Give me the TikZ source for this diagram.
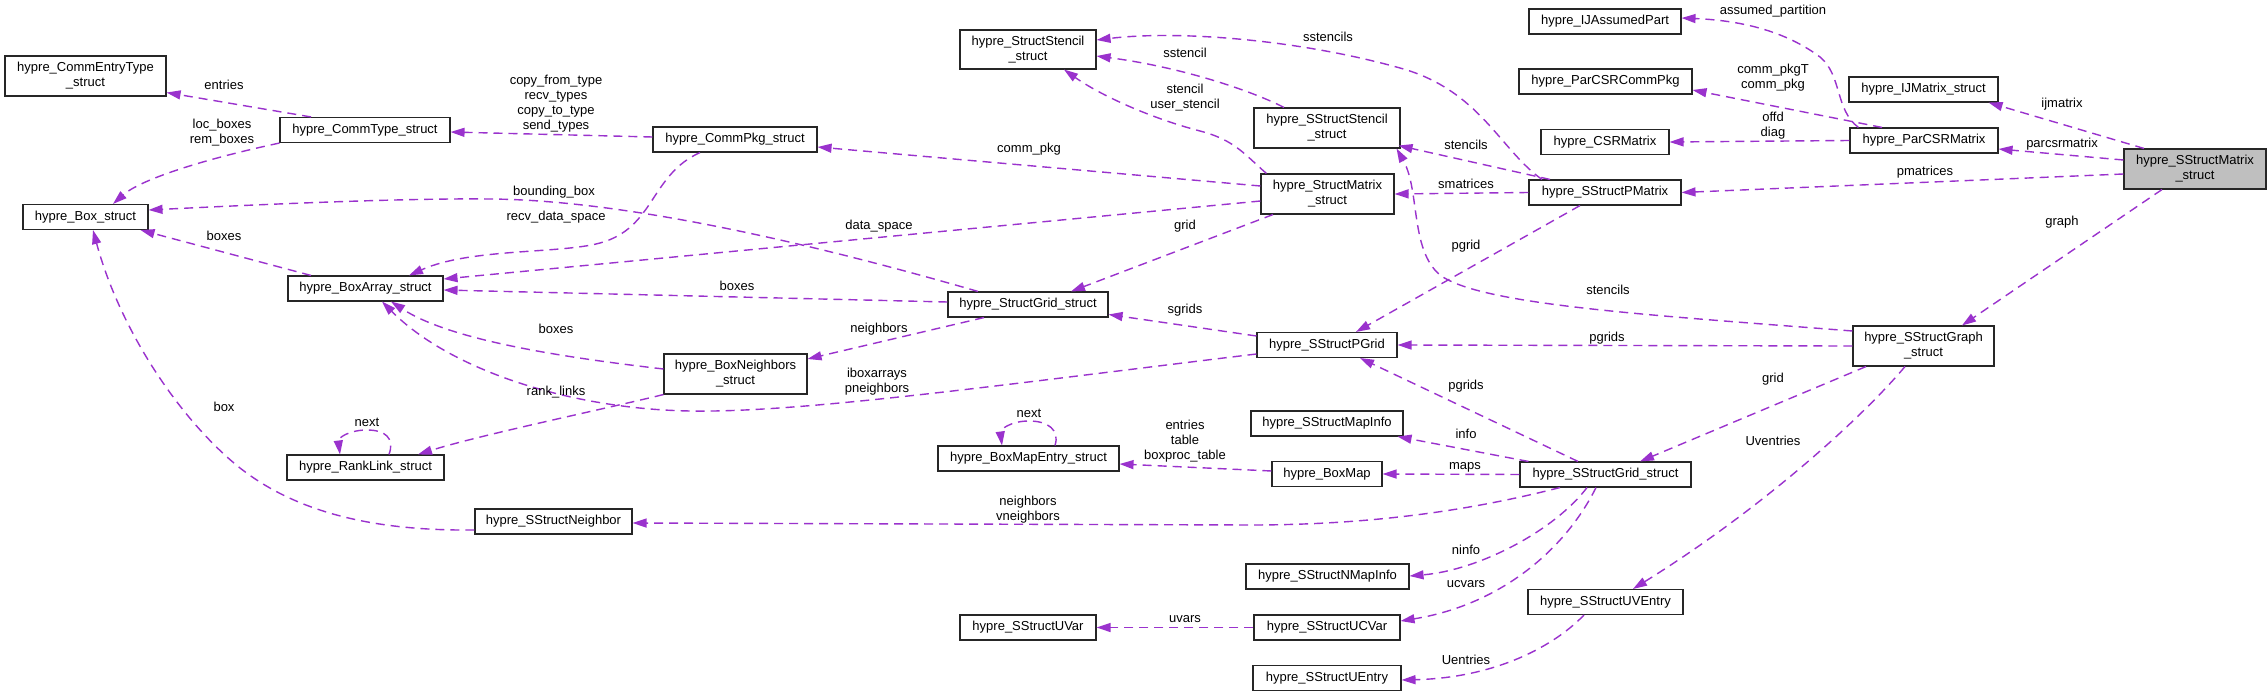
\documentclass[tikz,border=0pt]{standalone}
\usepackage{fontspec}
\setmainfont{Liberation Sans}
\usetikzlibrary{arrows.meta}
\definecolor{edgec}{RGB}{154,50,205}
\definecolor{hilite}{RGB}{191,191,191}
\begin{document}
\begin{tikzpicture}[x=1pt,y=-1pt,font=\fontsize{13pt}{15pt}\selectfont,
  cls/.style={draw=black!85, line width=1.1pt, fill=white, inner sep=0pt, align=center, minimum height=25pt},
  lbl/.style={inner sep=0pt, align=center},
  rel/.style={edgec, line width=1.4pt, dash pattern=on 9pt off 6pt, -{Triangle[length=14pt,width=9pt]}}]
\fill[white] (0,0) rectangle (2268,693);
\useasboundingbox (0,0) rectangle (2268,693);
% classes
\node[cls, minimum width=161pt, minimum height=40pt] (CommEntryType) at (85.5,76) {hypre\_CommEntryType\\\_struct};
\node[cls, minimum width=170pt] (CommType) at (365,130) {hypre\_CommType\_struct};
\node[cls, minimum width=125pt] (Box) at (85.5,217) {hypre\_Box\_struct};
\node[cls, minimum width=155pt] (BoxArray) at (365.5,288.5) {hypre\_BoxArray\_struct};
\node[cls, minimum width=157pt] (RankLink) at (365.5,467.5) {hypre\_RankLink\_struct};
\node[cls, minimum width=157pt] (SNeighbor) at (553.5,521.5) {hypre\_SStructNeighbor};
\node[cls, minimum width=164pt] (CommPkg) at (735,139.5) {hypre\_CommPkg\_struct};
\node[cls, minimum width=143pt, minimum height=40pt] (BoxNeighbors) at (735.5,374) {hypre\_BoxNeighbors\\\_struct};
\node[cls, minimum width=136pt, minimum height=39pt] (StructStencil) at (1028,49.5) {hypre\_StructStencil\\\_struct};
\node[cls, minimum width=160pt] (StructGrid) at (1028,304.5) {hypre\_StructGrid\_struct};
\node[cls, minimum width=181pt] (BoxMapEntry) at (1028.5,458.5) {hypre\_BoxMapEntry\_struct};
\node[cls, minimum width=136pt] (UVar) at (1028,627.5) {hypre\_SStructUVar};
\node[cls, minimum width=146pt, minimum height=40pt] (SStencil) at (1327,128) {hypre\_SStructStencil\\\_struct};
\node[cls, minimum width=133pt, minimum height=40pt] (StructMatrix) at (1327.5,194) {hypre\_StructMatrix\\\_struct};
\node[cls, minimum width=140pt] (PGrid) at (1327,345) {hypre\_SStructPGrid};
\node[cls, minimum width=152pt] (MapInfo) at (1327,423.5) {hypre\_SStructMapInfo};
\node[cls, minimum width=110pt] (BoxMap) at (1327,474) {hypre\_BoxMap};
\node[cls, minimum width=163pt] (NMapInfo) at (1327.5,576.5) {hypre\_SStructNMapInfo};
\node[cls, minimum width=146pt] (UCVar) at (1327,627.5) {hypre\_SStructUCVar};
\node[cls, minimum width=148pt] (UEntry) at (1327,678) {hypre\_SStructUEntry};
\node[cls, minimum width=152pt] (IJAP) at (1605,21.5) {hypre\_IJAssumedPart};
\node[cls, minimum width=173pt] (PCommPkg) at (1605.5,81.5) {hypre\_ParCSRCommPkg};
\node[cls, minimum width=128pt] (CSR) at (1605,142) {hypre\_CSRMatrix};
\node[cls, minimum width=152pt] (PMatrix) at (1605,192.5) {hypre\_SStructPMatrix};
\node[cls, minimum width=171pt] (SGrid) at (1605.5,474.5) {hypre\_SStructGrid\_struct};
\node[cls, minimum width=155pt] (UVEntry) at (1605.5,602) {hypre\_SStructUVEntry};
\node[cls, minimum width=149pt] (IJMatrix) at (1923.5,89.5) {hypre\_IJMatrix\_struct};
\node[cls, minimum width=148pt] (ParCSR) at (1924,140.5) {hypre\_ParCSRMatrix};
\node[cls, minimum width=141pt, minimum height=40pt] (Graph) at (1923.5,346) {hypre\_SStructGraph\\\_struct};
\node[cls, fill=hilite, minimum width=142pt, minimum height=40pt] (SMatrix) at (2195,169) {hypre\_SStructMatrix\\\_struct};
% relations
\draw[rel] ([xshift=-54pt]CommType.north) -- ([yshift=4pt]CommEntryType.south east);
\draw[rel] (CommType.south west) .. controls (200,160) and (140,180) .. ([xshift=27.5pt]Box.north);
\draw[rel] ([yshift=2.5pt]CommPkg.west) -- ([yshift=-2pt]CommType.east);
\draw[rel] ([xshift=-35pt]CommPkg.south) .. controls (650,175) and (655,228) .. (600,243) .. controls (560,254) and (470,248) .. ([xshift=43.5pt]BoxArray.north);
\draw[rel] ([xshift=-50pt]StructGrid.north) .. controls (800,240) and (620,200) .. (490,199) .. controls (400,198) and (250,205) .. ([yshift=7pt]Box.east);
\draw[rel] ([yshift=-7pt]StructMatrix.west) -- ([yshift=9.5pt]BoxArray.east);
\draw[rel] ([yshift=2.5pt]StructGrid.west) -- ([yshift=-1.5pt]BoxArray.east);
\draw[rel] ([yshift=5pt]BoxNeighbors.west) .. controls (560,357) and (450,340) .. ([xshift=25.5pt]BoxArray.south);
\draw[rel] ([yshift=-9pt]PGrid.west) .. controls (1000,385) and (800,413) .. (690,411) .. controls (570,409) and (450,370) .. ([xshift=16.5pt]BoxArray.south);
\draw[rel] (BoxNeighbors.south west) .. controls (600,410) and (480,435) .. ([xshift=52.5pt]RankLink.north);
\draw[rel] ([xshift=23.5pt]RankLink.north) .. controls (395,438) and (385,430) .. (367,430) .. controls (349,430) and (338,438) .. ([xshift=-25.5pt]RankLink.north);
\draw[rel] ([yshift=-8.5pt]SNeighbor.west) .. controls (380,531) and (300,515) .. (240,468) .. controls (180,420) and (120,330) .. ([xshift=7.5pt]Box.south);
\draw[rel] ([xshift=-44pt]StructGrid.south) -- ([yshift=15pt]BoxNeighbors.east);
\draw[rel] ([xshift=6pt]StructMatrix.north west) .. controls (1245,155) and (1235,140) .. (1200,131) .. controls (1150,118) and (1100,95) .. ([xshift=36pt]StructStencil.south);
\draw[rel] ([xshift=-43pt]SStencil.north) .. controls (1250,90) and (1180,67) .. ([yshift=-6.5pt]StructStencil.east);
\draw[rel] ([xshift=-63pt]PMatrix.north) .. controls (1500,150) and (1480,90) .. (1400,68) .. controls (1300,40) and (1180,30) .. ([yshift=9.5pt]StructStencil.east);
\draw[rel] ([yshift=8pt]StructMatrix.west) -- ([yshift=-7.5pt]CommPkg.east);
\draw[rel] ([xshift=-54.5pt]StructMatrix.south) -- ([xshift=43pt]StructGrid.north);
\draw[rel] ([xshift=-55pt]PMatrix.north) -- ([xshift=-2pt,yshift=3pt]SStencil.south east);
\draw[rel] (PMatrix.west) -- (StructMatrix.east);
\draw[rel] ([xshift=-25pt]PMatrix.south) -- ([xshift=29pt]PGrid.north);
\draw[rel] ([yshift=15pt]Graph.west) .. controls (1650,315) and (1480,305) .. (1440,275) .. controls (1410,250) and (1420,190) .. ([xshift=-4pt]SStencil.south east);
\draw[rel] (Graph.west) -- (PGrid.east);
\draw[rel] ([xshift=-57.5pt]Graph.south) -- ([xshift=34.5pt]SGrid.north);
\draw[rel] ([xshift=-18.5pt]Graph.south) .. controls (1860,420) and (1760,510) .. ([xshift=27.5pt]UVEntry.north);
\draw[rel] ([xshift=-27.5pt]SGrid.north) -- ([xshift=33pt]PGrid.south);
\draw[rel] ([xshift=9pt]SGrid.north west) -- ([xshift=-6pt]MapInfo.south east);
\draw[rel] (SGrid.west) -- (BoxMap.east);
\draw[rel] ([xshift=-45.5pt]SGrid.south) .. controls (1480,508) and (1380,525) .. (1250,525) -- ([yshift=-1.5pt]SNeighbor.east);
\draw[rel] ([xshift=-18.5pt]SGrid.south) .. controls (1555,530) and (1480,570) .. ([yshift=0.5pt]NMapInfo.east);
\draw[rel] ([xshift=-9.5pt]SGrid.south) .. controls (1565,550) and (1500,605) .. ([yshift=6.5pt]UCVar.east);
\draw[rel] (UCVar.west) -- (UVar.east);
\draw[rel] ([yshift=3pt]BoxMap.west) -- ([yshift=-5.5pt]BoxMapEntry.east);
\draw[rel] ([xshift=26.5pt]BoxMapEntry.north) .. controls (1060,430) and (1048,421) .. (1029,421) .. controls (1010,421) and (1000,430) .. ([xshift=-26.5pt]BoxMapEntry.north);
\draw[rel] ([xshift=-21.5pt]UVEntry.south) .. controls (1550,650) and (1490,678) .. ([yshift=-2pt]UEntry.east);
\draw[rel] ([yshift=9pt]PGrid.west) -- ([yshift=-10pt]StructGrid.east);
\draw[rel] ([xshift=-51pt]SMatrix.north) -- ([xshift=-10pt]IJMatrix.south east);
\draw[rel] ([yshift=9pt]SMatrix.west) -- ([yshift=-8.5pt]ParCSR.east);
\draw[rel] ([yshift=-5pt]SMatrix.west) -- (PMatrix.east);
\draw[rel] ([xshift=-33pt]SMatrix.south) -- ([xshift=38.5pt]Graph.north);
\draw[rel] ([xshift=9pt]ParCSR.north west) .. controls (1835,110) and (1842,75) .. (1820,57) .. controls (1780,27) and (1730,20) .. ([yshift=3.5pt]IJAP.east);
\draw[rel] ([xshift=-42pt]ParCSR.north) -- ([yshift=-8.5pt]PCommPkg.east);
\draw[rel] (ParCSR.west) -- (CSR.east);
\draw[rel] ([xshift=-54.5pt]BoxArray.north) -- ([xshift=-8pt]Box.south east);
% labels
\node[lbl] (l1) at (224,85) {entries};
\node[lbl] (l2) at (222,132.5) {loc\_boxes\\rem\_boxes};
\node[lbl] (l3) at (556,103.5) {copy\_from\_type\\recv\_types\\copy\_to\_type\\send\_types};
\node[lbl] (l4) at (554,192) {bounding\_box};
\node[lbl] (l5) at (556,217) {recv\_data\_space};
\node[lbl] (l6) at (224,236) {boxes};
\node[lbl] (l7) at (556,329) {boxes};
\node[lbl] (l8) at (556,392) {rank\_links};
\node[lbl] (l9) at (224,407) {box};
\node[lbl] (l10) at (367,422) {next};
\node[lbl] (l11) at (1185,53) {sstencil};
\node[lbl] (l12) at (1185,98) {stencil\\user\_stencil};
\node[lbl] (l13) at (1029,149) {comm\_pkg};
\node[lbl] (l14) at (879,226) {data\_space};
\node[lbl] (l15) at (1185,226) {grid};
\node[lbl] (l16) at (737,286) {boxes};
\node[lbl] (l17) at (1185,310) {sgrids};
\node[lbl] (l18) at (879,329) {neighbors};
\node[lbl] (l19) at (877,381.5) {iboxarrays\\pneighbors};
\node[lbl] (l20) at (1029,413) {next};
\node[lbl] (l21) at (1185,441) {entries\\table\\boxproc\_table};
\node[lbl] (l22) at (1028,510) {neighbors\\vneighbors};
\node[lbl] (l23) at (1185,619) {uvars};
\node[lbl] (l24) at (1328,37) {sstencils};
\node[lbl] (l25) at (1466,145) {stencils};
\node[lbl] (l26) at (1466,184) {smatrices};
\node[lbl] (l27) at (1466,246) {pgrid};
\node[lbl] (l28) at (1608,290) {stencils};
\node[lbl] (l29) at (1607,338) {pgrids};
\node[lbl] (l30) at (1466,386) {pgrids};
\node[lbl] (l31) at (1466,434) {info};
\node[lbl] (l32) at (1465,467) {maps};
\node[lbl] (l33) at (1773,379) {grid};
\node[lbl] (l34) at (1773,441) {Uventries};
\node[lbl] (l35) at (1466,550) {ninfo};
\node[lbl] (l36) at (1466,584) {ucvars};
\node[lbl] (l37) at (1466,660) {Uentries};
\node[lbl] (l38) at (1773,11.5) {assumed\_partition};
\node[lbl] (l39) at (1773,78) {comm\_pkgT\\comm\_pkg};
\node[lbl] (l40) at (1773,126) {offd\\diag};
\node[lbl] (l41) at (2062,104) {ijmatrix};
\node[lbl] (l42) at (2062,144) {parcsrmatrix};
\node[lbl] (l43) at (1925,172) {pmatrices};
\node[lbl] (l44) at (2062,222) {graph};
\end{tikzpicture}
\end{document}
